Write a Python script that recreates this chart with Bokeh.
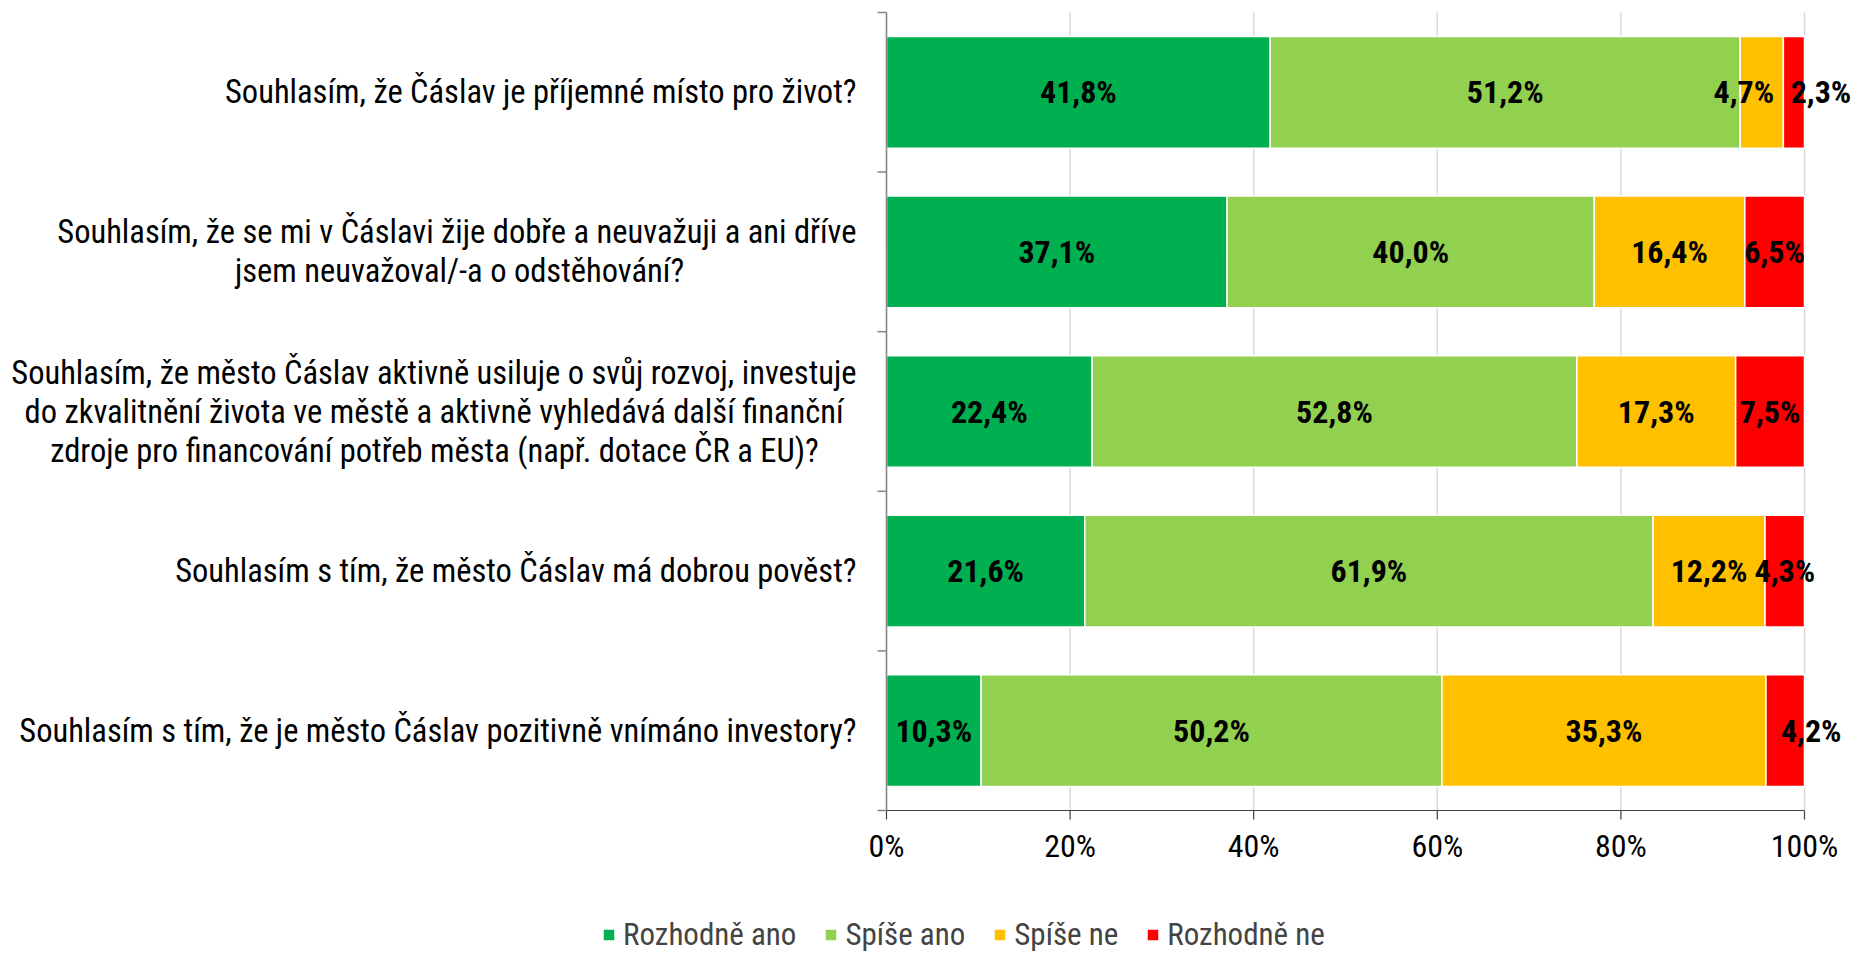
import glob
import os
from bokeh.plotting import figure
from bokeh.models import (ColumnDataSource, Legend, LegendItem, Range1d, LabelSet)
from bokeh.embed import file_html
from bokeh.resources import INLINE
from bokeh.core.properties import value

# ---------------- data ----------------
questions = [
    "Souhlasím, že Čáslav je příjemné místo pro život?",
    "Souhlasím, že se mi v Čáslavi žije dobře a neuvažuji a ani dříve\njsem neuvažoval/-a o odstěhování?",
    "Souhlasím, že město Čáslav aktivně usiluje o svůj rozvoj, investuje\ndo zkvalitnění života ve městě a aktivně vyhledává další finanční\nzdroje pro financování potřeb města (např. dotace ČR a EU)?",
    "Souhlasím s tím, že město Čáslav má dobrou pověst?",
    "Souhlasím s tím, že je město Čáslav pozitivně vnímáno investory?",
]
rozhodne_ano = [41.8, 37.1, 22.4, 21.6, 10.3]
spise_ano = [51.2, 40.0, 52.8, 61.9, 50.2]
spise_ne = [4.7, 16.4, 17.3, 12.2, 35.3]
rozhodne_ne = [2.3, 6.5, 7.5, 4.3, 4.2]
series_names = ["Rozhodně ano", "Spíše ano", "Spíše ne", "Rozhodně ne"]
x_ticks = [0, 20, 40, 60, 80, 100]

# ---------------- style ----------------
colors = ["#00B050", "#92D050", "#FFC000", "#FF0000"]
GRID_COLOR = "#D9D9D9"
YAXIS_COLOR = "#868686"
XAXIS_COLOR = "#404040"


def find_font(fname):
    for d in ["/usr/share/fonts", "/usr/local/share/fonts",
              os.path.expanduser("~/.fonts"), os.path.expanduser("~/.local/share/fonts")]:
        hits = glob.glob(os.path.join(d, "**", fname), recursive=True)
        if hits:
            return hits[0]
    return None


FONT, FONT_PATH, SCALE = "'Liberation Sans Narrow', sans-serif", None, 1.0
for fam, fn, sc in [("Liberation Sans Narrow", "LiberationSansNarrow-Regular.ttf", 1.0),
                    ("Roboto Condensed", "RobotoCondensed-Regular.ttf", 1.0),
                    ("Liberation Sans", "LiberationSans-Regular.ttf", 0.84)]:
    path = find_font(fn)
    if path:
        FONT, FONT_PATH, SCALE = f"'{fam}', sans-serif", path, sc
        break

FS = 32 * SCALE          # tick / value label font size in px
CAT_FS = 32.5 * SCALE    # category label font size
LEG_FS = 31 * SCALE
LINE_H = 39              # line spacing of category labels


def text_width(s, size):
    try:
        from PIL import ImageFont
        f = ImageFont.truetype(FONT_PATH, int(round(size)))
        return f.getlength(s)
    except Exception:
        return len(s) * 0.42 * size


# canvas geometry (px); the frame covers the whole canvas
W, H = 1852, 953
ZERO_PX, HUNDRED_PX = 886, 1804          # x of 0 % and 100 %
TOP_PX, AXIS_PX = 12, 810                # y of top of category area and of value axis
n = len(questions)
PX_X = (HUNDRED_PX - ZERO_PX) / 100.0    # px per percent
PX_Y = (AXIS_PX - TOP_PX) / n            # px per category band
x_start = -ZERO_PX / PX_X
x_end = 100 + (W - HUNDRED_PX) / PX_X
y_start = -(H - AXIS_PX) / PX_Y
y_end = n + TOP_PX / PX_Y
TICK = 9                                 # tick length, px

# manual nudges (px) of a few data labels, as in the original
label_nudge = {(0, 2): -18, (0, 3): 27, (4, 3): 26}

ys = [n - i - 0.5 for i in range(n)]
series = [rozhodne_ano, spise_ano, spise_ne, rozhodne_ne]
keys = ["s0", "s1", "s2", "s3"]

data = dict(y=ys)
for k, s in zip(keys, series):
    data[k] = s
source = ColumnDataSource(data)

p = figure(width=W, height=H, output_backend="svg", toolbar_location=None,
           x_range=Range1d(x_start, x_end), y_range=Range1d(y_start, y_end),
           x_axis_location=None, y_axis_location=None,
           min_border=0, outline_line_color=None)
p.grid.grid_line_color = None

# vertical grid lines at the value ticks, spanning the category area
p.segment(x0=x_ticks, x1=x_ticks, y0=[0] * len(x_ticks), y1=[n] * len(x_ticks),
          line_color=GRID_COLOR, line_width=1.5)

renderers = p.hbar_stack(keys, y="y", height=0.7, color=colors, source=source,
                         line_color="white", line_width=1.5)

# value axis (bottom): line, ticks, labels
p.segment(x0=[x_ticks[0]], x1=[x_ticks[-1]], y0=[0], y1=[0],
          line_color=XAXIS_COLOR, line_width=1.2)
p.segment(x0=x_ticks, x1=x_ticks, y0=[0] * len(x_ticks),
          y1=[-TICK / PX_Y] * len(x_ticks), line_color=XAXIS_COLOR, line_width=1.2)
tsrc = ColumnDataSource(dict(x=x_ticks, y=[0] * len(x_ticks),
                             t=[f"{t}%" for t in x_ticks]))
p.add_layout(LabelSet(x="x", y="y", text="t", y_offset=-35, source=tsrc,
                      text_align="center", text_baseline="middle",
                      text_font=value(FONT), text_font_size=value(f"{FS:.1f}px"),
                      text_color="black"))

# category axis (left): line and boundary ticks
bounds = list(range(n + 1))
p.segment(x0=[0], x1=[0], y0=[0], y1=[n], line_color=YAXIS_COLOR, line_width=1.5)
p.segment(x0=[0] * len(bounds), x1=[-TICK / PX_X] * len(bounds), y0=bounds, y1=bounds,
          line_color=YAXIS_COLOR, line_width=1.5)

# data labels
lx, ly, lt, lo = [], [], [], []
for i in range(n):
    left = 0.0
    for j, s in enumerate(series):
        v = s[i]
        lx.append(left + v / 2)
        ly.append(ys[i])
        lt.append(f"{v:.1f}".replace(".", ",") + "%")
        lo.append(label_nudge.get((i, j), 0))
        left += v
lsrc = ColumnDataSource(dict(x=lx, y=ly, t=lt, o=lo))
p.add_layout(LabelSet(x="x", y="y", text="t", x_offset="o", source=lsrc,
                      text_align="center", text_baseline="middle",
                      text_font=value(FONT), text_font_size=value(f"{FS:.1f}px"),
                      text_font_style="bold", text_color="black"))

# category labels: block right-aligned, lines centred within the block
cx, cy, cxo, cyo, ct = [], [], [], [], []
for y, q in zip(ys, questions):
    lines = q.split("\n")
    widths = [text_width(ln, CAT_FS) for ln in lines]
    wmax = max(widths)
    for k, (ln, w) in enumerate(zip(lines, widths)):
        cx.append(0)
        cy.append(y)
        cxo.append(-30 - (wmax - w) / 2)
        cyo.append(((len(lines) - 1) / 2 - k) * LINE_H)
        ct.append(ln)
csrc = ColumnDataSource(dict(x=cx, y=cy, xo=cxo, yo=cyo, t=ct))
p.add_layout(LabelSet(x="x", y="y", text="t", x_offset="xo", y_offset="yo",
                      source=csrc, text_align="right", text_baseline="middle",
                      text_font=value(FONT), text_font_size=value(f"{CAT_FS:.1f}px"),
                      text_color="black"))

legend = Legend(items=[LegendItem(label=nm, renderers=[r]) for nm, r in zip(series_names, renderers)],
                orientation="horizontal", location=(601, 0),
                label_text_font=FONT, label_text_font_size=f"{LEG_FS:.1f}px",
                glyph_width=15, glyph_height=15, label_standoff=7, spacing=27,
                border_line_color=None, background_fill_alpha=0, padding=0, margin=0)
p.add_layout(legend, "center")

open("out.html", "w").write(file_html(p, INLINE))
